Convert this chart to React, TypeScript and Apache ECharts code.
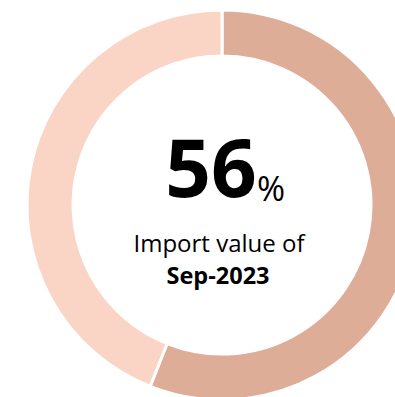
import React, { useEffect, useRef } from "react";
import * as echarts from "echarts";

const categories = ["Sep-2023", "Other"];
const values = [56, 44];
const colors = ["#DEAD98", "#FAD4C4"];
const centerValue = "56";
const subtitle = "Import value of";
const period = "Sep-2023";

export default function App() {
  const ref = useRef<HTMLDivElement>(null);
  useEffect(() => {
    const chart = echarts.init(ref.current!, null, { renderer: "svg" });
    chart.setOption({
      animation: false,
      series: [
        {
          type: "pie",
          center: [222, 205],
          radius: [149, 195],
          startAngle: 90,
          clockwise: true,
          label: { show: false },
          labelLine: { show: false },
          emphasis: { disabled: true },
          itemStyle: { borderColor: "#ffffff", borderWidth: 3 },
          data: categories.map((c, i) => ({
            name: c,
            value: values[i],
            itemStyle: { color: colors[i] },
          })),
        },
      ],
      graphic: [
        {
          type: "text",
          x: 211,
          y: 165,
          style: {
            text: centerValue,
            align: "center",
            verticalAlign: "middle",
            fontFamily: "Open Sans",
            fontWeight: "bold",
            fontSize: 80,
            lineHeight: 80,
            fill: "#000",
          },
        },
        {
          type: "text",
          x: 257,
          y: 188,
          style: {
            text: "%",
            align: "left",
            verticalAlign: "middle",
            fontFamily: "Open Sans",
            fontSize: 34,
            lineHeight: 34,
            fill: "#000",
          },
        },
        {
          type: "text",
          x: 219,
          y: 242,
          style: {
            text: subtitle,
            align: "center",
            verticalAlign: "middle",
            fontFamily: "Open Sans",
            fontSize: 24,
            fill: "#000",
          },
        },
        {
          type: "text",
          x: 218,
          y: 275,
          style: {
            text: period,
            align: "center",
            verticalAlign: "middle",
            fontFamily: "Open Sans",
            fontWeight: "bold",
            fontSize: 23.5,
            fill: "#000",
          },
        },
      ],
    });
    return () => chart.dispose();
  }, []);
  return (
    <div
      ref={ref}
      style={{ position: "absolute", left: 0, top: 0, width: 395, height: 397 }}
    />
  );
}
